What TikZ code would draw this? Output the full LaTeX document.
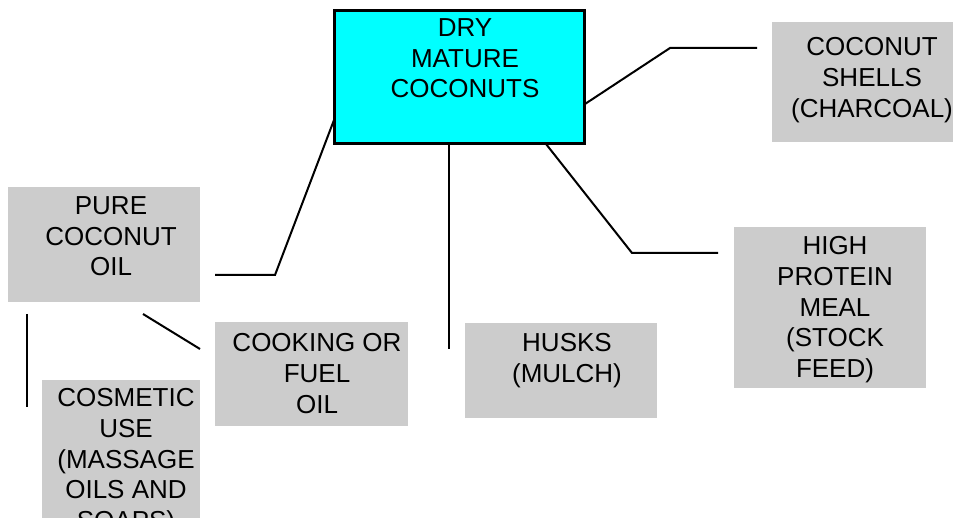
\documentclass[tikz,border=0pt]{standalone}
\usepackage{fontspec}
\setmainfont{Liberation Sans}
\definecolor{boxgray}{HTML}{CCCCCC}
\definecolor{aqua}{HTML}{00FFFF}
\tikzset{
  graybox/.style={fill=boxgray, draw=none},
  mainbox/.style={fill=aqua, draw=black, line width=2.6pt},
  lbl/.style={anchor=north, align=center, inner sep=0pt, font=\fontsize{26}{30.7}\selectfont},
  link/.style={draw=black, line width=2pt}
}
\begin{document}
\begin{tikzpicture}[x=1pt,y=-1pt]
\useasboundingbox (0,0) rectangle (953,518);
% boxes
\path[mainbox] (334.3,10.3) rectangle (584.7,143.7);
\path[graybox] (772,22) rectangle (953,142);
\path[graybox] (8,187) rectangle (200,302);
\path[graybox] (215,322) rectangle (408,426);
\path[graybox] (42,380) rectangle (200,518);
\path[graybox] (465,323) rectangle (657,418);
\path[graybox] (734,227) rectangle (926,388);
% labels
\node[lbl] (main) at (465,18.3) {DRY\\MATURE\\COCONUTS};
\node[lbl] (shells) at (872,37.3) {COCONUT\\SHELLS\\(CHARCOAL)};
\node[lbl] (pure) at (111,196.3) {PURE\\COCONUT\\OIL};
\node[lbl] (cooking) at (317,333.3) {COOKING OR\\FUEL\\OIL};
\node[lbl] (cosmetic) at (126,388.3) {COSMETIC\\USE\\(MASSAGE\\OILS AND\\SOAPS)};
\node[lbl] (husks) at (567,333.3) {HUSKS\\(MULCH)};
\node[lbl] (protein) at (835,236.3) {HIGH\\PROTEIN\\MEAL\\(STOCK\\FEED)};
% connector end points
\coordinate (mS) at (585,104);
\coordinate (sB) at (670,48);
\coordinate (sE) at (757,48);
\coordinate (mP) at (334,120);
\coordinate (pB) at (275,275);
\coordinate (pE) at (215,275);
\coordinate (mH) at (449,144);
\coordinate (hE) at (449,349);
\coordinate (mQ) at (546,144);
\coordinate (qB) at (632,253);
\coordinate (qE) at (718,253);
\coordinate (pC) at (143,314);
\coordinate (cE) at (200,349);
\coordinate (pK) at (27,314);
\coordinate (kE) at (27,407);
% connectors
\draw[link] (mS) -- (sB) -- (sE);
\draw[link] (mP) -- (pB) -- (pE);
\draw[link] (mH) -- (hE);
\draw[link] (mQ) -- (qB) -- (qE);
\draw[link] (pC) -- (cE);
\draw[link] (pK) -- (kE);
\end{tikzpicture}
\end{document}
